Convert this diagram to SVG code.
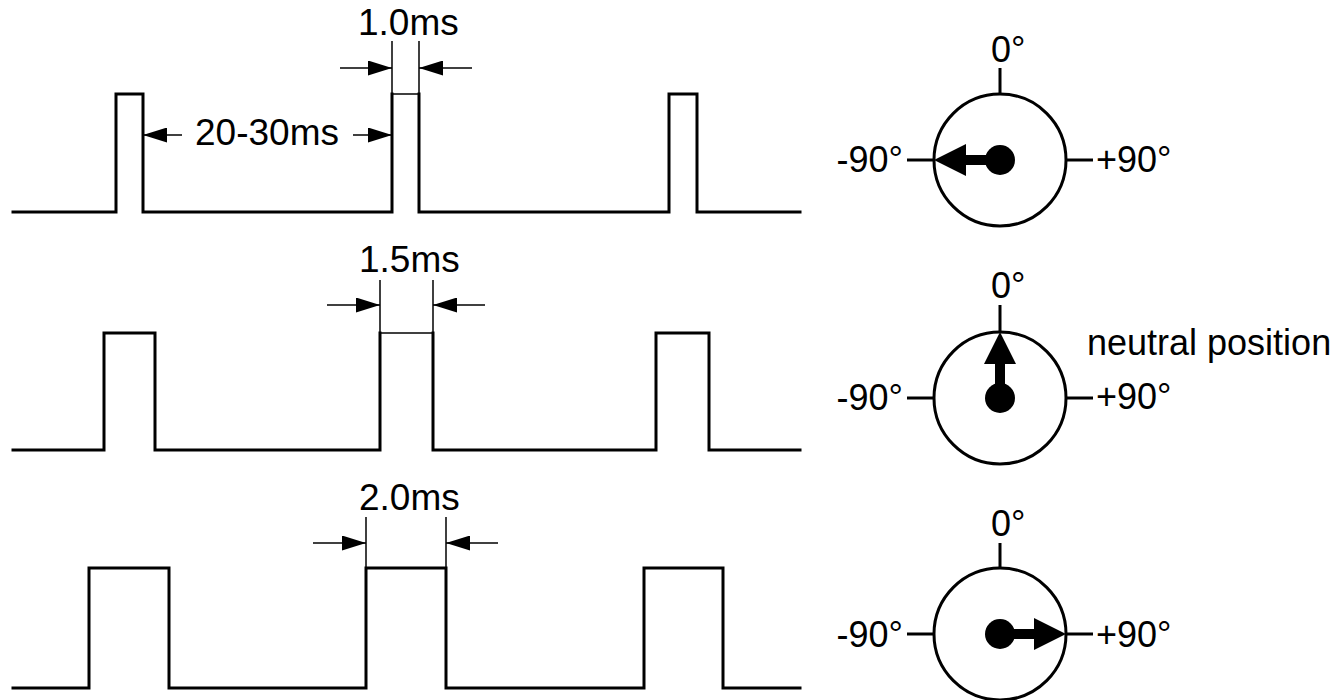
<svg xmlns="http://www.w3.org/2000/svg" width="1344" height="700" viewBox="0 0 1344 700">
<style>
.wave{fill:none;stroke:#000;stroke-width:3;stroke-linejoin:miter;stroke-linecap:square}
.thin{fill:none;stroke:#000;stroke-width:1.5}
.dim{fill:none;stroke:#000;stroke-width:1.5;marker-end:url(#ah)}
.tick{stroke:#000;stroke-width:3}
.ring{fill:none;stroke:#000;stroke-width:3}
.lbl{font-family:"Liberation Sans",Arial,sans-serif;font-size:36px;fill:#000}
.ms{font-size:37px}
</style>
<defs>
<marker id="ah" viewBox="0 0 24 15" refX="24" refY="7.5" markerUnits="userSpaceOnUse" markerWidth="24" markerHeight="15" orient="auto">
<path d="M0,0 L24,7.5 L0,15 Z" fill="#000"/>
</marker>
</defs>
<rect width="1344" height="700" fill="#fff"/>

<g id="wave1">
<polyline class="wave" points="13,212 116,212 116,94 143,94 143,212 392,212 392,94"/>
<polyline class="wave" points="419,94 419,212 669,212 669,94 697,94 697,212 800,212"/>
<line class="thin" x1="392" y1="94" x2="419" y2="94"/>
</g>
<g id="wave2">
<polyline class="wave" points="13,450 104,450 104,333 155,333 155,450 380,450 380,333"/>
<polyline class="wave" points="433,333 433,450 656,450 656,333 709,333 709,450 800,450"/>
<line class="thin" x1="380" y1="333" x2="433" y2="333"/>
</g>
<g id="wave3">
<polyline class="wave" points="13,688 89,688 89,568 169,568 169,688 366,688 366,568 446,568 446,688 644,688 644,568 723,568 723,688 800,688"/>
</g>

<g id="connectors">
<line class="thin" x1="392" y1="41" x2="392" y2="94"/>
<line class="thin" x1="419" y1="41" x2="419" y2="94"/>
<line class="dim" x1="340" y1="68" x2="392" y2="68"/>
<line class="dim" x1="472" y1="68" x2="419" y2="68"/>
<line class="dim" x1="182" y1="135" x2="143" y2="135"/>
<line class="dim" x1="353" y1="135" x2="392" y2="135"/>

<line class="thin" x1="380" y1="280" x2="380" y2="333"/>
<line class="thin" x1="433" y1="280" x2="433" y2="333"/>
<line class="dim" x1="327" y1="305" x2="380" y2="305"/>
<line class="dim" x1="485" y1="305" x2="433" y2="305"/>

<line class="thin" x1="366" y1="517" x2="366" y2="568"/>
<line class="thin" x1="446" y1="517" x2="446" y2="568"/>
<line class="dim" x1="313" y1="543" x2="366" y2="543"/>
<line class="dim" x1="498" y1="543" x2="446" y2="543"/>
</g>

<g id="labels">
<text class="lbl ms" x="358" y="35">1.0ms</text>
<text class="lbl ms" x="195" y="145">20-30ms</text>
<text class="lbl ms" x="359" y="272">1.5ms</text>
<text class="lbl ms" x="359" y="510">2.0ms</text>
</g>

<g id="dial1">
<circle class="ring" cx="1000" cy="160" r="66"/>
<line class="tick" x1="1000" y1="68" x2="1000" y2="94"/>
<line class="tick" x1="907" y1="160" x2="934" y2="160"/>
<line class="tick" x1="1066" y1="160" x2="1093" y2="160"/>
<circle cx="1000" cy="160" r="15" fill="#000"/>
<rect x="964" y="155" width="36" height="10" fill="#000"/>
<polygon points="934,160 966,144 966,176" fill="#000"/>
<text class="lbl" x="991" y="62">0°</text>
<text class="lbl" x="903" y="172" text-anchor="end">-90°</text>
<text class="lbl" x="1096" y="172">+90°</text>
</g>

<g id="dial2">
<circle class="ring" cx="1000" cy="398" r="66"/>
<line class="tick" x1="1000" y1="305" x2="1000" y2="332"/>
<line class="tick" x1="907" y1="398" x2="934" y2="398"/>
<line class="tick" x1="1066" y1="398" x2="1093" y2="398"/>
<circle cx="1000" cy="398" r="15" fill="#000"/>
<rect x="995" y="361" width="10" height="37" fill="#000"/>
<polygon points="1000,332 984,364 1016,364" fill="#000"/>
<text class="lbl" x="991" y="298">0°</text>
<text class="lbl" x="903" y="410" text-anchor="end">-90°</text>
<text class="lbl" x="1096" y="409">+90°</text>
<text class="lbl" x="1087" y="355">neutral position</text>
</g>

<g id="dial3">
<circle class="ring" cx="1000" cy="634" r="66"/>
<line class="tick" x1="1000" y1="543" x2="1000" y2="568"/>
<line class="tick" x1="907" y1="634" x2="934" y2="634"/>
<line class="tick" x1="1066" y1="634" x2="1093" y2="634"/>
<circle cx="1000" cy="634" r="15" fill="#000"/>
<rect x="1000" y="629" width="36" height="10" fill="#000"/>
<polygon points="1066,634 1034,618 1034,650" fill="#000"/>
<text class="lbl" x="991" y="536">0°</text>
<text class="lbl" x="903" y="647" text-anchor="end">-90°</text>
<text class="lbl" x="1096" y="647">+90°</text>
</g>
</svg>
